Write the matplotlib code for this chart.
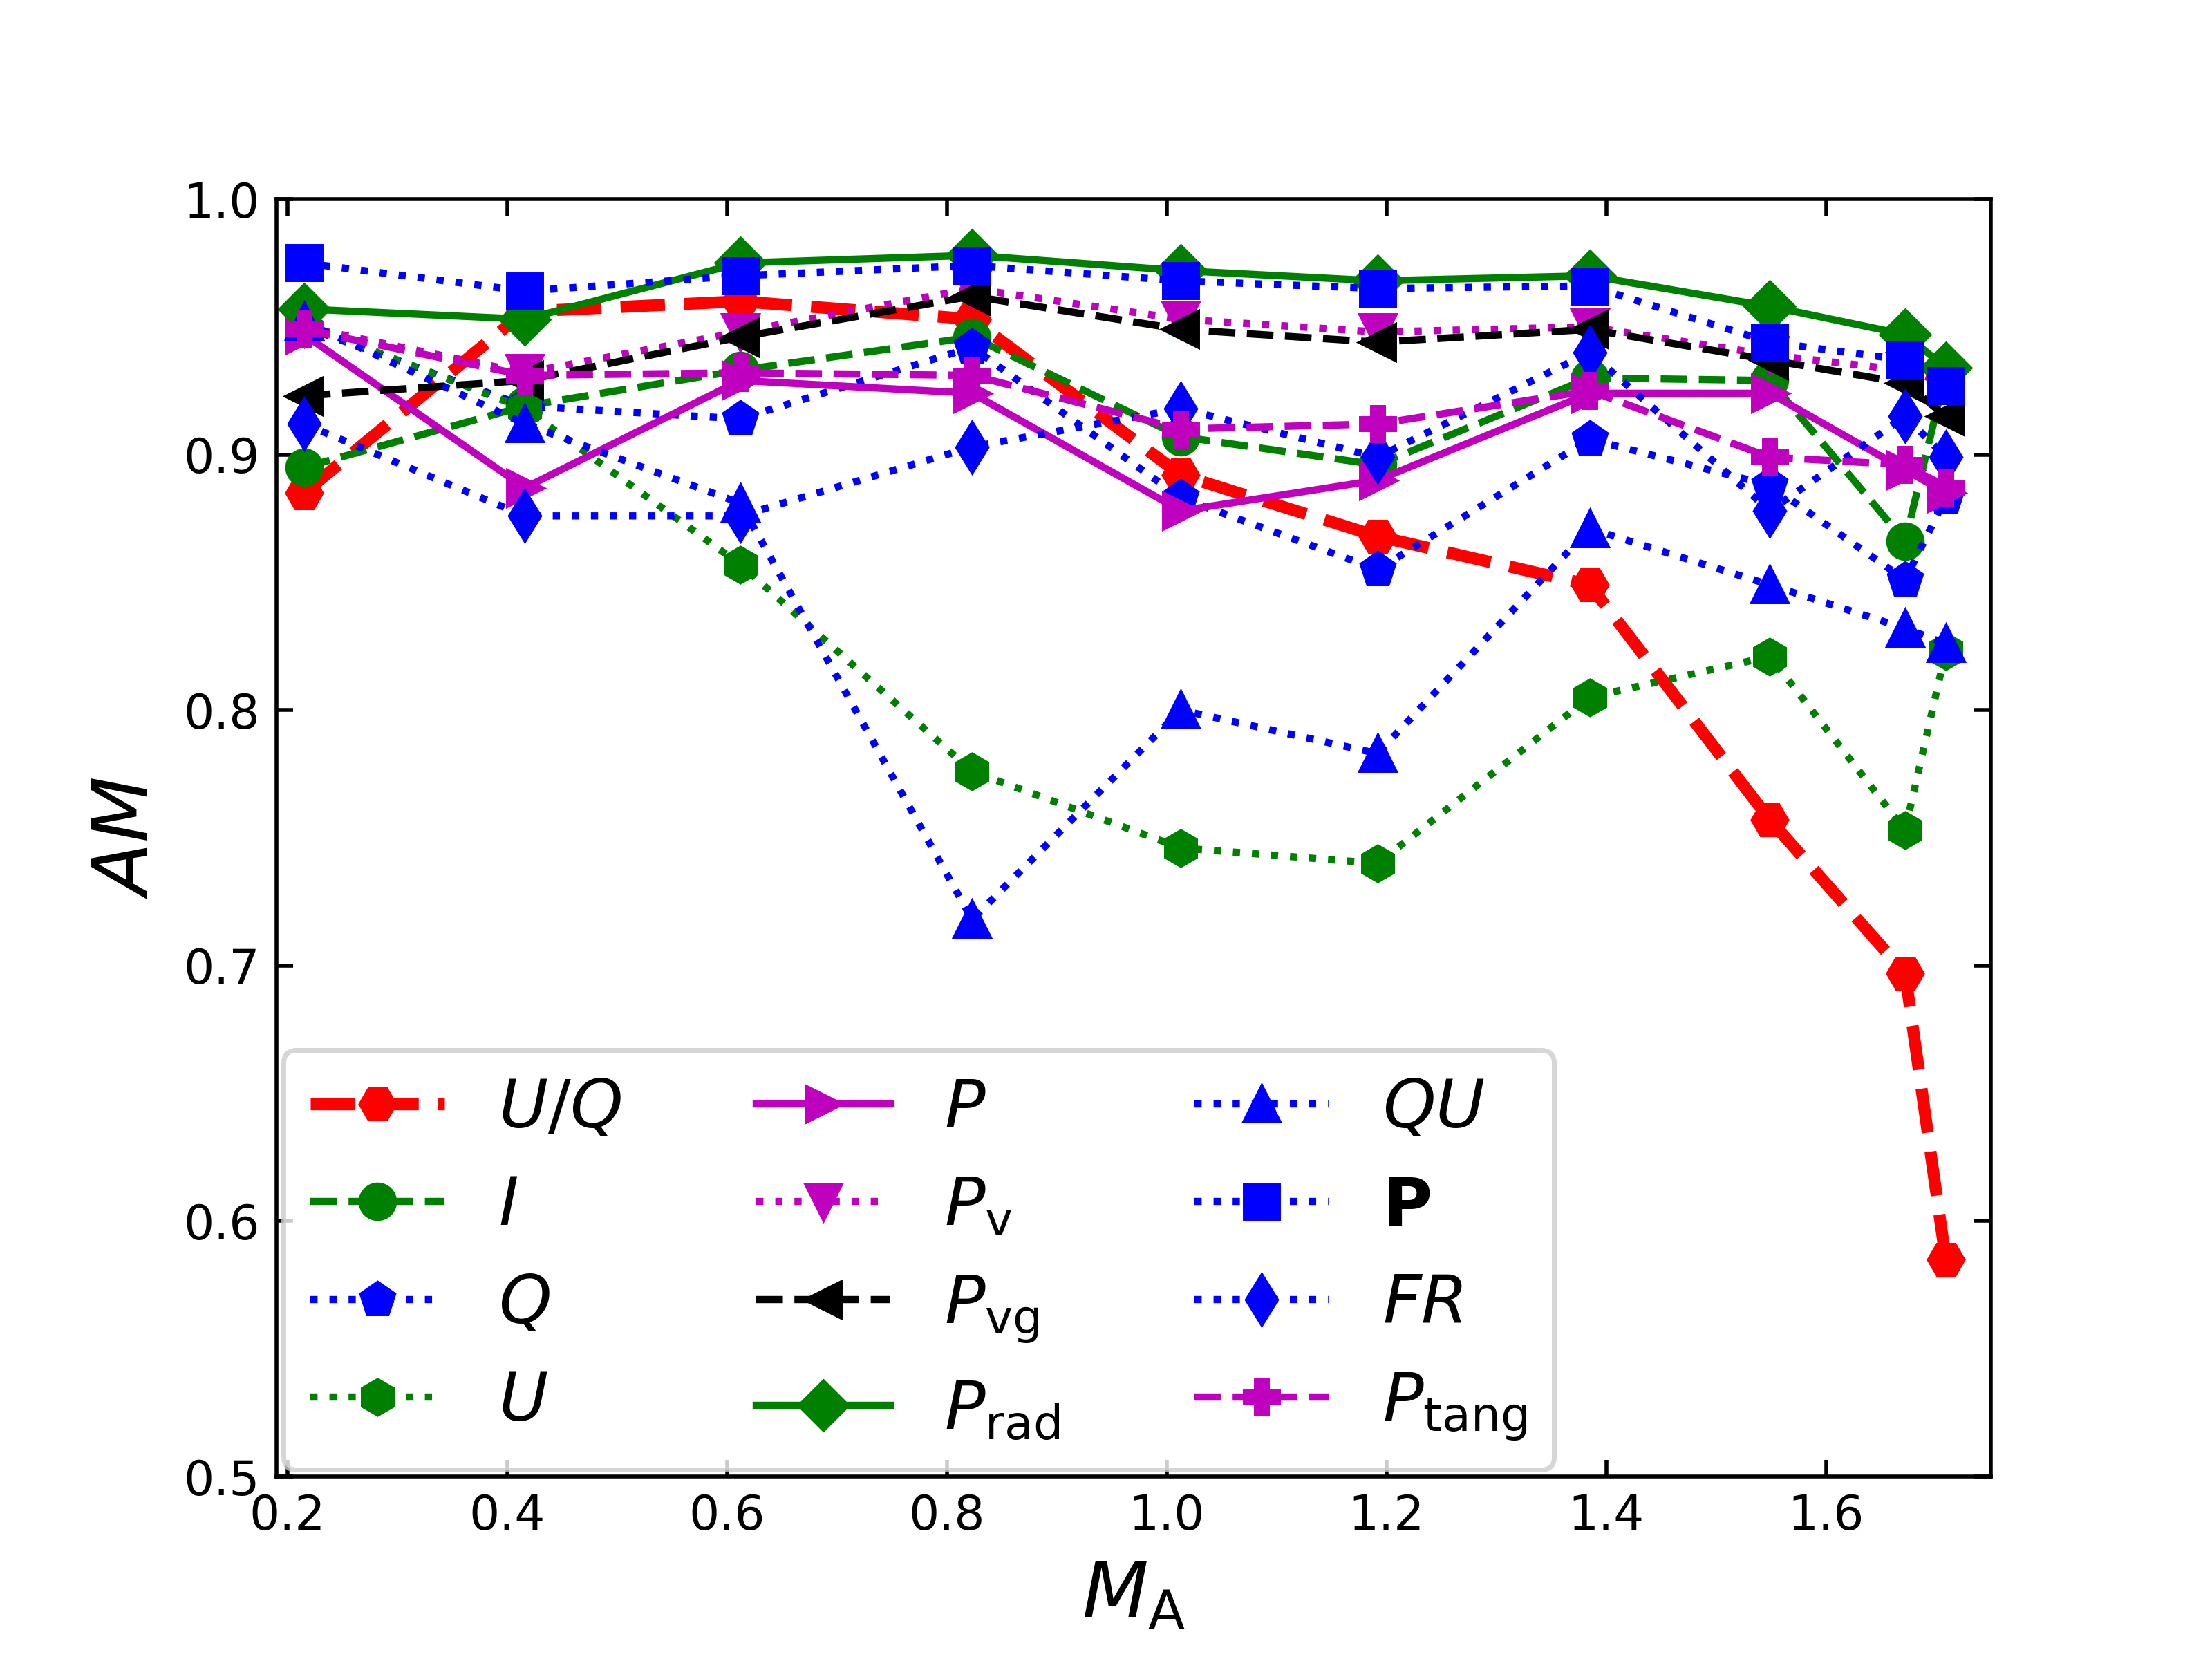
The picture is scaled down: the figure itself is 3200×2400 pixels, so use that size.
import matplotlib
matplotlib.use("Agg")
import matplotlib.pyplot as plt

# Alfven Mach number of each simulation
ma = [0.215, 0.416, 0.612, 0.823, 1.013, 1.192, 1.385, 1.549, 1.672, 1.709]

# alignment measure for each observable
am_uq = [0.885, 0.956, 0.960, 0.953, 0.892, 0.868, 0.849, 0.757, 0.697, 0.585]
am_i = [0.895, 0.919, 0.933, 0.946, 0.907, 0.896, 0.930, 0.929, 0.866, 0.932]
am_q = [0.950, 0.919, 0.914, 0.942, 0.883, 0.855, 0.906, 0.888, 0.851, 0.883]
am_u = [0.951, 0.918, 0.857, 0.776, 0.746, 0.740, 0.805, 0.821, 0.753, 0.823]
am_p = [0.947, 0.887, 0.929, 0.924, 0.878, 0.890, 0.924, 0.924, 0.894, 0.885]
am_pv = [0.950, 0.932, 0.948, 0.965, 0.953, 0.948, 0.950, 0.939, 0.933, 0.928]
am_pvg = [0.923, 0.929, 0.946, 0.962, 0.949, 0.944, 0.949, 0.937, 0.928, 0.915]
am_prad = [0.957, 0.953, 0.975, 0.978, 0.972, 0.968, 0.970, 0.958, 0.947, 0.934]
am_qu = [0.952, 0.912, 0.881, 0.718, 0.800, 0.783, 0.871, 0.849, 0.832, 0.826]
am_pvec = [0.975, 0.964, 0.970, 0.974, 0.968, 0.965, 0.966, 0.944, 0.937, 0.927]
am_fr = [0.912, 0.876, 0.876, 0.903, 0.918, 0.899, 0.940, 0.878, 0.915, 0.899]
am_ptang = [0.949, 0.931, 0.932, 0.931, 0.910, 0.912, 0.925, 0.899, 0.896, 0.887]

fig, ax = plt.subplots(figsize=(6.4, 4.8))

ax.plot(ma, am_uq, 'r--', marker='H', ms=7, lw=2.5, label=r'$U/Q$')
ax.plot(ma, am_i, 'g--', marker='o', ms=7, lw=1.5, label=r'$I$')
ax.plot(ma, am_q, 'b:', marker='p', ms=7, lw=1.5, label=r'$Q$')
ax.plot(ma, am_u, 'g:', marker='h', ms=7, lw=1.5, label=r'$U$')
ax.plot(ma, am_p, 'm-', marker='>', ms=7, lw=1.5, label=r'$P$')
ax.plot(ma, am_pv, 'm:', marker='v', ms=7, lw=1.5, label=r'$P_{\rm v}$')
ax.plot(ma, am_pvg, 'k--', marker='<', ms=7, lw=1.5, label=r'$P_{\rm vg}$')
ax.plot(ma, am_prad, 'g-', marker='D', ms=7, lw=1.5, label=r'$P_{\rm rad}$')
ax.plot(ma, am_qu, 'b:', marker='^', ms=7, lw=1.5, label=r'$QU$')
ax.plot(ma, am_pvec, 'b:', marker='s', ms=7, lw=1.5, label=r'$\mathbf{P}$')
ax.plot(ma, am_fr, 'b:', marker='d', ms=7, lw=1.5, label=r'$FR$')
ax.plot(ma, am_ptang, 'm--', marker='P', ms=7, lw=1.5, label=r'$P_{\rm tang}$')

ax.set_xlim(0.19, 1.75)
ax.set_ylim(0.5, 1.0)
ax.set_xlabel(r'$M_{\rm A}$', fontsize=16)
ax.set_ylabel(r'$AM$', fontsize=16)
ax.tick_params(direction='in', top=True, right=True)
ax.legend(loc='lower left', ncol=3, fontsize=14, borderaxespad=0.1)

fig.savefig('out.png', dpi=500)
